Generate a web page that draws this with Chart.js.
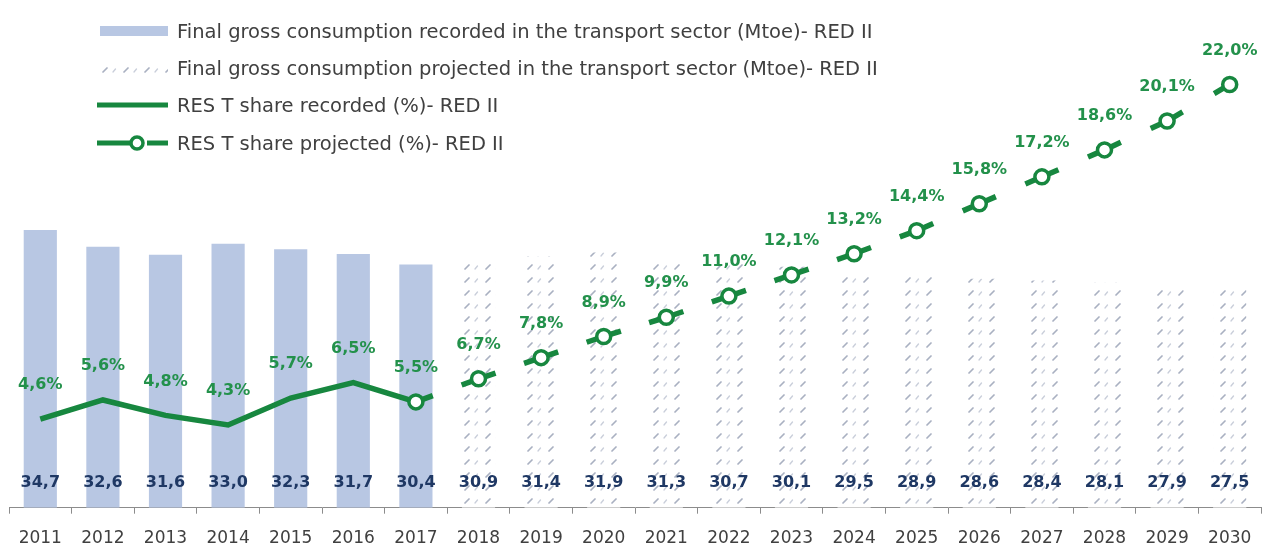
<!DOCTYPE html>
<html>
<head>
<meta charset="utf-8">
<script src="https://cdn.jsdelivr.net/npm/chart.js@4/dist/chart.umd.min.js"></script>
<style>
  html, body { margin: 0; padding: 0; background: #ffffff; }
  #wrap { position: relative; width: 1263px; height: 547px; overflow: hidden; }
  #c { position: absolute; left: 0; top: 0; }
  .lg-row { position: absolute; left: 97px; height: 24px; display: flex; align-items: center;
            font-family: "DejaVu Sans", sans-serif; font-size: 19.5px; color: #404040; white-space: nowrap; }
  .lg-sw { width: 71px; height: 24px; margin-right: 9px; position: relative; flex: none; }
</style>
</head>
<body>
<div id="wrap">
  <canvas id="c" width="1263" height="547"></canvas>
  <div id="legend"></div>
</div>
<script>
// ---------- DATA ----------
const years = ['2011','2012','2013','2014','2015','2016','2017','2018','2019','2020',
               '2021','2022','2023','2024','2025','2026','2027','2028','2029','2030'];
const consumptionRecorded = [34.7, 32.6, 31.6, 33.0, 32.3, 31.7, 30.4,
                             null, null, null, null, null, null, null, null, null, null, null, null, null];
const consumptionProjected = [null, null, null, null, null, null, null,
                              30.9, 31.4, 31.9, 31.3, 30.7, 30.1, 29.5, 28.9, 28.6, 28.4, 28.1, 27.9, 27.5];
const shareRecorded = [4.6, 5.6, 4.8, 4.3, 5.7, 6.5, 5.5,
                       null, null, null, null, null, null, null, null, null, null, null, null, null];
const shareProjected = [null, null, null, null, null, null, 5.5,
                        6.7, 7.8, 8.9, 9.9, 11.0, 12.1, 13.2, 14.4, 15.8, 17.2, 18.6, 20.1, 22.0];
const legendLabels = [
  'Final gross consumption recorded in the transport sector (Mtoe)- RED II',
  'Final gross consumption projected in the transport sector (Mtoe)- RED II',
  'RES T share recorded (%)- RED II',
  'RES T share projected (%)- RED II'
];

// ---------- STYLE ----------
const GREEN = '#17873f';
const GREEN_TXT = '#23914b';
const NAVY = '#1f3864';
const BAR_BLUE = '#b8c7e3';
const AXIS_GRAY = '#8c8c8c';
const FONT = '"DejaVu Sans", sans-serif';

// pattern for projected bars
function makePatternCanvas() {
  const pc = document.createElement('canvas');
  pc.width = 21; pc.height = 13;
  const p = pc.getContext('2d');
  p.fillStyle = '#ffffff';
  p.fillRect(0, 0, 21, 13);
  p.strokeStyle = 'rgba(140,150,172,0.75)';
  p.lineWidth = 1.7;
  p.lineCap = 'round';
  p.beginPath(); p.moveTo(3, 9); p.lineTo(7, 5); p.stroke();
  p.strokeStyle = 'rgba(165,174,194,0.6)';
  p.lineWidth = 1.3;
  p.beginPath(); p.moveTo(13, 9); p.lineTo(15.5, 6); p.stroke();
  return pc;
}
const patCanvas = makePatternCanvas();
const ctx = document.getElementById('c').getContext('2d');
const barPattern = ctx.createPattern(patCanvas, 'repeat');

// ---------- LEGEND (HTML) ----------
(function buildLegend() {
  const lg = document.getElementById('legend');
  const centers = [31, 68, 105, 143];
  const swatches = [
    '<div style="position:absolute;left:3px;top:7px;width:68px;height:10px;background:' + BAR_BLUE + '"></div>',
    '<div style="position:absolute;left:3px;top:7px;width:68px;height:10px;background:url(' + patCanvas.toDataURL() + ') repeat;"></div>',
    '<svg width="71" height="24" style="position:absolute;left:0;top:0"><line x1="0" y1="12" x2="71" y2="12" stroke="' + GREEN + '" stroke-width="5"/></svg>',
    '<svg width="71" height="24" style="position:absolute;left:0;top:0"><line x1="0" y1="12" x2="40" y2="12" stroke="' + GREEN + '" stroke-width="5"/>' +
      '<circle cx="40" cy="12" r="6" fill="#fff" stroke="' + GREEN + '" stroke-width="3.5"/>' +
      '<line x1="50" y1="12" x2="71" y2="12" stroke="' + GREEN + '" stroke-width="5"/></svg>'
  ];
  legendLabels.forEach((txt, i) => {
    const row = document.createElement('div');
    row.className = 'lg-row';
    row.style.top = (centers[i] - 12) + 'px';
    row.innerHTML = '<div class="lg-sw">' + swatches[i] + '</div><span>' + txt + '</span>';
    lg.appendChild(row);
  });
})();

// ---------- LABEL PLUGIN ----------
const fmt = v => v.toFixed(1).replace('.', ',');
const labelPlugin = {
  id: 'valueLabels',
  afterDatasetsDraw(chart) {
    const c = chart.ctx;
    c.save();
    c.textAlign = 'center';
    c.textBaseline = 'middle';
    const baseY = chart.scales.y.getPixelForValue(0);
    // bar labels
    [2, 3].forEach(di => {
      const meta = chart.getDatasetMeta(di);
      const data = chart.data.datasets[di].data;
      c.font = 'bold 16px ' + FONT;
      c.fillStyle = NAVY;
      meta.data.forEach((el, i) => {
        if (data[i] == null) return;
        c.fillText(fmt(data[i]), el.x, baseY - 25);
      });
    });
    // line labels
    c.font = 'bold 16px ' + FONT;
    c.fillStyle = GREEN_TXT;
    [[1, 0], [0, 7]].forEach(([di, from]) => {
      const meta = chart.getDatasetMeta(di);
      const data = chart.data.datasets[di].data;
      meta.data.forEach((el, i) => {
        if (data[i] == null || i < from) return;
        c.fillText(fmt(data[i]) + '%', el.x, el.y - 34);
      });
    });
    c.restore();
  }
};

// ---------- CHART ----------
new Chart(ctx, {
  data: {
    labels: years,
    datasets: [
      {
        type: 'line', label: legendLabels[3], data: shareProjected, yAxisID: 'y2',
        borderColor: GREEN, borderWidth: 5.5, borderCapStyle: 'butt',
        pointRadius: 7, pointBorderWidth: 3.5, pointBackgroundColor: '#ffffff', pointBorderColor: GREEN,
        pointHoverRadius: 7,
        tension: 0, spanGaps: false,
        segment: {
          borderDash: s => {
            const L = Math.hypot(s.p1.x - s.p0.x, s.p1.y - s.p0.y);
            return [36, Math.max(L - 36, 1)];
          },
          borderDashOffset: s => 18 + s.p0DataIndex * 0.0001
        }
      },
      {
        type: 'line', label: legendLabels[2], data: shareRecorded, yAxisID: 'y2',
        borderColor: GREEN, borderWidth: 5.5, pointRadius: 0, pointHoverRadius: 0,
        tension: 0, borderJoinStyle: 'miter'
      },
      {
        type: 'bar', label: legendLabels[0], data: consumptionRecorded, yAxisID: 'y',
        backgroundColor: BAR_BLUE, borderWidth: 0, grouped: false,
        categoryPercentage: 1, barPercentage: 0.53
      },
      {
        type: 'bar', label: legendLabels[1], data: consumptionProjected, yAxisID: 'y',
        backgroundColor: barPattern, borderWidth: 0, grouped: false,
        categoryPercentage: 1, barPercentage: 0.53
      }
    ]
  },
  options: {
    responsive: false,
    animation: false,
    layout: { autoPadding: false, padding: { top: 46, left: 9, right: 2, bottom: -17 } },
    plugins: { legend: { display: false }, tooltip: { enabled: false } },
    scales: {
      x: {
        type: 'category',
        offset: true,
        afterFit: s => { s.paddingLeft = 0; s.paddingRight = 0; },
        grid: { display: true, drawOnChartArea: false, drawTicks: true, tickLength: 6,
                color: AXIS_GRAY, offset: true, lineWidth: 1 },
        border: { display: true, color: AXIS_GRAY, width: 1 },
        ticks: { autoSkip: false, maxRotation: 0, padding: 9, color: '#404040',
                 font: { family: FONT, size: 17, lineHeight: 1.9 } }
      },
      y: { display: false, min: 0, max: 57.7 },
      y2: { display: false, min: 0, max: 24, position: 'right' }
    }
  },
  plugins: [labelPlugin]
});
</script>
</body>
</html>
